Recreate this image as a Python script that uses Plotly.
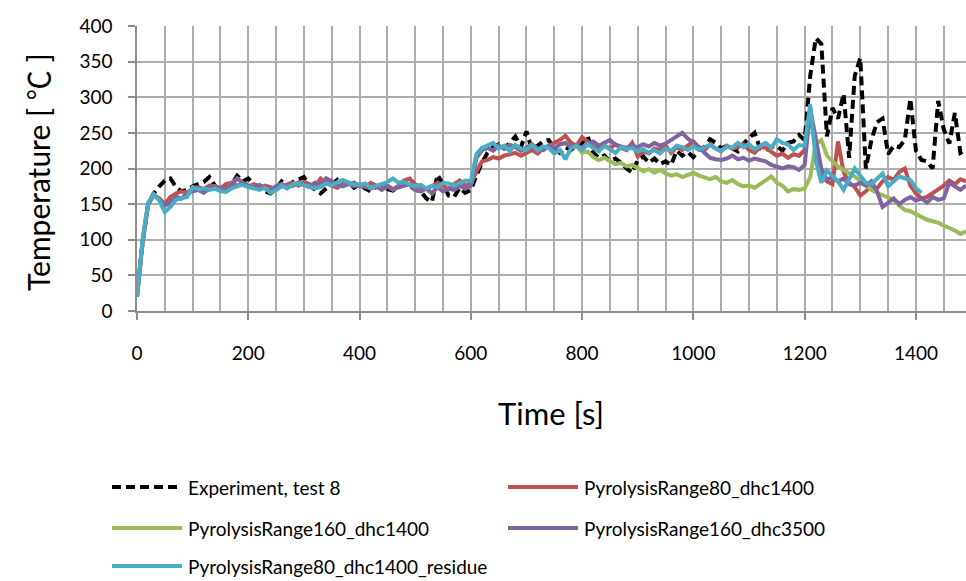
import plotly.graph_objects as go

# Sample times [s], one reading every 10 s
time_s = list(range(0, 1500, 10))

experiment = [
    22, 95, 150, 165, 175, 183, 186, 174, 168, 170,
    175, 178, 181, 188, 176, 170, 174, 178, 190, 182,
    186, 178, 174, 168, 165, 172, 182, 176, 181, 185,
    188, 176, 170, 165, 172, 178, 184, 176, 181, 173,
    178, 172, 168, 174, 176, 171, 169, 174, 180, 176,
    170, 168, 158, 153, 191, 178, 162, 160, 173, 166,
    170, 190, 208, 222, 230, 234, 228, 236, 245, 230,
    252, 226, 232, 238, 240, 228, 222, 230, 226, 232,
    236, 245, 222, 215, 218, 210, 214, 208, 200, 194,
    212, 217, 208, 214, 206, 210, 205, 225, 218, 223,
    216, 226, 230, 241, 236, 228, 232, 228, 224, 235,
    242, 250, 228, 226, 230, 232, 225, 236, 238, 247,
    240, 330, 383, 375, 245, 285, 270, 305, 215, 330,
    355, 200, 240, 265, 270, 220, 232, 230, 240, 298,
    225, 212, 210, 200, 295, 255, 235, 278, 222, 226,
]

range80_dhc1400 = [
    20, 98, 150, 163, 158, 150, 160, 165, 168, 166,
    172, 174, 171, 176, 175, 172, 178, 180, 176, 178,
    175, 178, 172, 176, 174, 170, 175, 178, 180, 176,
    181, 178, 175, 186, 180, 176, 173, 178, 180, 175,
    178, 174, 180, 176, 172, 175, 170, 176, 183, 186,
    178, 174, 172, 175, 180, 176, 171, 178, 183, 176,
    178, 196, 210, 212, 216, 214, 218, 220, 222, 218,
    222, 226, 221, 228, 232, 236, 240, 246, 236, 232,
    244, 238, 231, 226, 232, 228, 234, 229, 226, 236,
    217, 224, 221, 228, 226, 232, 222, 230, 226, 232,
    238, 230, 226, 234, 228, 224, 232, 228, 230, 234,
    226, 222, 230, 229, 224, 218, 221, 215, 220, 218,
    226, 276, 228, 190, 182, 178, 238, 195, 180, 174,
    162, 168, 176, 172, 182, 188, 184, 195, 200, 176,
    165, 158, 160, 165, 170, 176, 183, 178, 185, 182,
]

range160_dhc1400 = [
    20, 97, 150, 163, 156, 148, 152, 160, 158, 165,
    168, 170, 166, 172, 175, 173, 170, 178, 186, 180,
    176, 174, 177, 172, 170, 175, 178, 174, 176, 180,
    177, 174, 180, 178, 186, 182, 176, 175, 178, 180,
    175, 176, 172, 175, 170, 176, 171, 174, 176, 178,
    170, 168, 172, 165, 174, 168, 172, 170, 176, 172,
    176, 215, 226, 229, 225, 232, 228, 233, 230, 225,
    229, 234, 228, 226, 232, 228, 234, 236, 230, 232,
    222, 224, 216, 212, 215, 210, 206, 208, 203, 205,
    200, 196, 199, 194, 198, 193, 190, 192, 188, 191,
    194, 190, 187, 185, 188, 182, 180, 184, 178, 175,
    176, 173, 178, 184, 189, 180, 176, 168, 171, 170,
    172, 188, 235, 240, 218, 210, 203, 198, 193, 189,
    182, 176, 170, 166, 163, 160, 156, 148, 142, 140,
    136, 133, 128, 126, 124, 120, 117, 113, 108, 112,
]

range160_dhc3500 = [
    20, 97, 150, 163, 156, 148, 152, 160, 158, 165,
    168, 170, 166, 172, 175, 173, 170, 178, 186, 180,
    176, 174, 177, 172, 170, 175, 178, 174, 176, 180,
    177, 174, 180, 178, 186, 182, 176, 175, 178, 180,
    175, 176, 172, 175, 170, 176, 171, 174, 176, 178,
    170, 168, 172, 165, 174, 168, 172, 170, 176, 172,
    176, 215, 226, 229, 225, 232, 228, 233, 230, 225,
    229, 234, 228, 226, 232, 228, 234, 236, 230, 232,
    229, 235, 238, 232, 236, 240, 233, 231, 229, 232,
    230, 234, 231, 236, 232, 235, 240, 246, 250, 242,
    236, 230, 222, 215, 213, 212, 214, 218, 213, 215,
    211, 214, 212, 210, 205, 203, 200, 203, 202, 198,
    205, 284, 245, 200, 184, 188, 182, 186, 178, 176,
    180, 176, 182, 168, 146, 152, 158, 150, 156, 160,
    155, 158, 152, 160, 156, 158, 180, 175, 170, 176,
]

# The residue run stops at 1410 s
range80_dhc1400_residue = [
    20, 100, 152, 164, 155, 139, 146, 156, 158, 160,
    174, 171, 172, 170, 172, 168, 167, 172, 175, 177,
    174, 172, 170, 173, 166, 170, 176, 172, 178, 179,
    177, 175, 172, 174, 179, 176, 181, 184, 180, 177,
    177, 179, 173, 176, 178, 181, 186, 180, 181, 178,
    175, 177, 172, 176, 174, 180, 179, 176, 179, 183,
    182, 220, 229, 233, 236, 228, 232, 224, 233, 228,
    226, 233, 225, 231, 229, 221, 226, 213, 228, 232,
    226, 234, 229, 224, 232, 227, 222, 230, 227, 229,
    224, 227, 222, 226, 221, 228, 225, 232, 230, 226,
    231, 226, 229, 233, 228, 225, 231, 229, 236, 230,
    234, 227, 232, 236, 229, 241, 236, 234, 226, 233,
    232, 290, 212, 180, 197, 190, 182, 170, 184, 200,
    190, 180, 178, 186, 193, 175, 182, 189, 186, 184,
    172, 166,
]

series_names = [
    "Experiment, test 8",
    "PyrolysisRange80_dhc1400",
    "PyrolysisRange160_dhc1400",
    "PyrolysisRange160_dhc3500",
    "PyrolysisRange80_dhc1400_residue",
]
series_values = [experiment, range80_dhc1400, range160_dhc1400,
                 range160_dhc3500, range80_dhc1400_residue]
series_colors = ["#000000", "#C0504D", "#9BBB59", "#8064A2", "#4BACC6"]
series_dash = ["9px,5px", "solid", "solid", "solid", "solid"]

x_ticks = [0, 200, 400, 600, 800, 1000, 1200, 1400]

FONT = "Lato, 'Open Sans', 'Noto Sans CJK SC', sans-serif"
GRID = "#ADADAD"
AXIS = "#8C8C8C"
LINE_W = 4
W, H = 966, 581
ML, MR, MT, MB = 137, 0, 26, 270
PW, PH = W - ML - MR, H - MT - MB


def px_to_paper(px, py):
    return (px - ML) / PW, (H - MB - py) / PH


fig = go.Figure()
for name, vals, col, dash in zip(series_names, series_values, series_colors, series_dash):
    fig.add_trace(go.Scatter(
        x=time_s[:len(vals)], y=vals, name=name, mode="lines",
        line=dict(color=col, width=LINE_W, dash=dash),
        showlegend=False,
    ))

# Two-column legend below the plot, drawn as line samples + labels
legend_slots = [(112, 487), (508, 487), (112, 528), (508, 528), (112, 566)]
shapes, annotations = [], []
for (lx, ly), name, col, dash in zip(legend_slots, series_names, series_colors, series_dash):
    x0, y0 = px_to_paper(lx, ly)
    x1, _ = px_to_paper(lx + 70, ly)
    shapes.append(dict(type="line", xref="paper", yref="paper", x0=x0, x1=x1, y0=y0, y1=y0,
                       line=dict(color=col, width=LINE_W, dash=dash)))
    tx, _ = px_to_paper(lx + 74, ly)
    annotations.append(dict(text=name, xref="paper", yref="paper", x=tx, y=y0,
                            xanchor="left", yanchor="middle", showarrow=False,
                            font=dict(family=FONT, size=19, color="#000")))

# Axis titles
ytx, yty = px_to_paper(38, 172)
annotations.append(dict(
    text="Temperature [ ℃ ]",
    xref="paper", yref="paper", x=ytx, y=yty, textangle=-90,
    xanchor="center", yanchor="middle", showarrow=False,
    font=dict(family=FONT, size=30, color="#000")))
xtx, xty = px_to_paper(551, 413)
annotations.append(dict(
    text="Time [s]", xref="paper", yref="paper", x=xtx, y=xty,
    xanchor="center", yanchor="middle", showarrow=False,
    font=dict(family=FONT, size=31, color="#000")))

fig.update_layout(
    width=W, height=H,
    margin=dict(l=ML, r=MR, t=MT, b=MB, pad=0),
    paper_bgcolor="white", plot_bgcolor="white",
    font=dict(family=FONT, color="#000"),
    shapes=shapes, annotations=annotations,
    xaxis=dict(
        range=[0, 1490], tickvals=x_ticks, ticktext=[str(v) for v in x_ticks],
        showgrid=True, gridcolor=GRID, gridwidth=1.5,
        minor=dict(dtick=50, tick0=0, showgrid=True, gridcolor=GRID, gridwidth=1.5),
        ticks="outside", ticklen=7, tickwidth=1.5, tickcolor=AXIS,
        showline=True, linecolor=AXIS, linewidth=1.5,
        zeroline=False, tickfont=dict(family=FONT, size=19, color="#000"),
        ticklabelstandoff=17,
    ),
    yaxis=dict(
        range=[0, 400], dtick=50, tick0=0,
        showgrid=True, gridcolor=GRID, gridwidth=1.5,
        ticks="outside", ticklen=7, tickwidth=1.5, tickcolor=AXIS,
        showline=True, linecolor=AXIS, linewidth=1.5,
        zeroline=False, tickfont=dict(family=FONT, size=19, color="#000"),
        ticklabelstandoff=12,
    ),
)

fig.write_html("out.html")
